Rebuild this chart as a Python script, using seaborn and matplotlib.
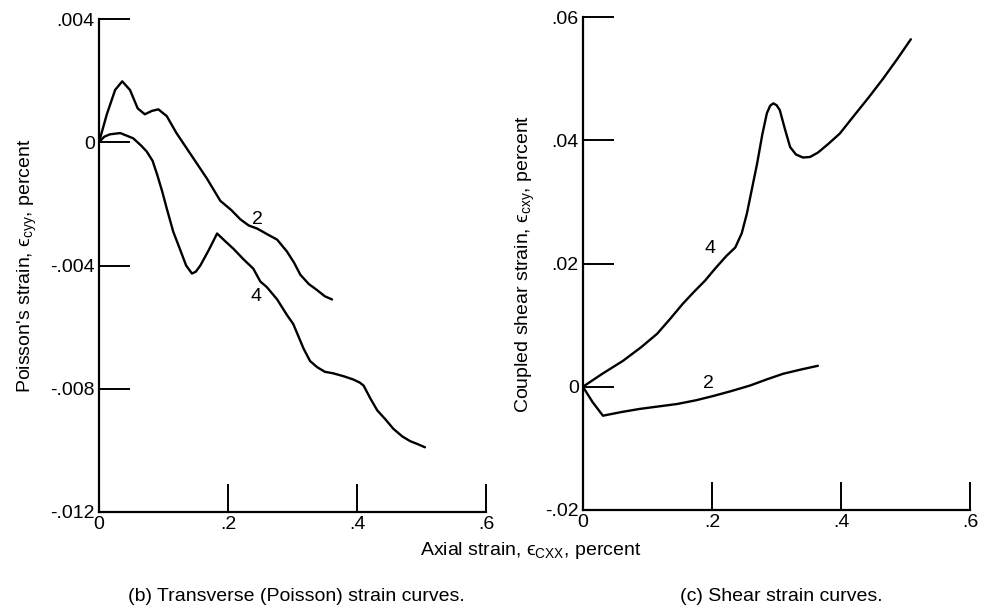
import pandas as pd
import seaborn as sns
import matplotlib.pyplot as plt

# (b) Poisson's strain curves
b2_x = [0.0, 0.012, 0.025, 0.036, 0.048, 0.060, 0.071, 0.082, 0.092, 0.105, 0.120, 0.136, 0.152, 0.167, 0.188,
        0.205, 0.219, 0.232, 0.245, 0.262, 0.276, 0.291, 0.302, 0.312, 0.325, 0.338, 0.350, 0.361]
b2_y = [0.0, 0.0009, 0.0017, 0.00198, 0.0017, 0.0011, 0.00091, 0.00102, 0.00107, 0.00085, 0.0003, -0.0002, -0.0007,
        -0.00117, -0.0019, -0.0022, -0.0025, -0.0027, -0.0028, -0.0030, -0.00316, -0.00354, -0.0039, -0.0043,
        -0.0046, -0.0048, -0.0050, -0.0051]
b4_x = [0.0, 0.008, 0.017, 0.033, 0.053, 0.065, 0.074, 0.083, 0.090, 0.098, 0.105, 0.115, 0.126, 0.135, 0.144,
        0.150, 0.157, 0.170, 0.183, 0.195, 0.208, 0.224, 0.239, 0.250, 0.260, 0.276, 0.291, 0.301, 0.309, 0.317,
        0.327, 0.338, 0.350, 0.363, 0.380, 0.394, 0.404, 0.410, 0.420, 0.431, 0.444, 0.456, 0.470, 0.482, 0.494, 0.505]
b4_y = [0.0, 0.00018, 0.00026, 0.0003, 0.00013, -0.0001, -0.0003, -0.0006, -0.00104, -0.0016, -0.00215, -0.0029,
        -0.0035, -0.0040, -0.00426, -0.0042, -0.0040, -0.0035, -0.00296, -0.0032, -0.00345, -0.0038, -0.0041,
        -0.00452, -0.0047, -0.0051, -0.0056, -0.0059, -0.0063, -0.0067, -0.0071, -0.0073, -0.00745, -0.0075,
        -0.0076, -0.0077, -0.0078, -0.0079, -0.0083, -0.0087, -0.0090, -0.0093, -0.00955, -0.0097, -0.0098, -0.0099]

# (c) coupled shear strain curves
c4_x = [0.0, 0.030, 0.062, 0.090, 0.115, 0.135, 0.155, 0.172, 0.189, 0.205, 0.222, 0.236, 0.246, 0.254, 0.262,
        0.270, 0.278, 0.285, 0.290, 0.295, 0.300, 0.305, 0.313, 0.321, 0.330, 0.341, 0.352, 0.364, 0.380, 0.398,
        0.420, 0.443, 0.465, 0.487, 0.508]
c4_y = [0.0, 0.0021, 0.0042, 0.0064, 0.0086, 0.0110, 0.0135, 0.0154, 0.0172, 0.0192, 0.0212, 0.0226, 0.0249,
        0.0281, 0.0322, 0.0363, 0.0410, 0.0444, 0.0456, 0.0460, 0.0457, 0.0449, 0.0418, 0.0389, 0.0377, 0.0372,
        0.0373, 0.0380, 0.0394, 0.0411, 0.0440, 0.0470, 0.0500, 0.0532, 0.0564]
c2_x = [0.0, 0.015, 0.031, 0.060, 0.088, 0.117, 0.146, 0.175, 0.202, 0.230, 0.259, 0.285, 0.310, 0.338, 0.364]
c2_y = [0.0, -0.0025, -0.0047, -0.0041, -0.0036, -0.0032, -0.0028, -0.0022, -0.0015, -0.0007, 0.0002, 0.0012,
        0.0021, 0.0028, 0.0034]

b_yticks = [-0.012, -0.008, -0.004, 0.0, 0.004]
b_ylabels = ["-.012", "-.008", "-.004", "0", ".004"]
c_yticks = [-0.02, 0.0, 0.02, 0.04, 0.06]
c_ylabels = ["-.02", "0", ".02", ".04", ".06"]
xticks = [0.0, 0.2, 0.4, 0.6]
xlabels = ["0", ".2", ".4", ".6"]


def curves(pairs):
    frames = []
    for name, xs, ys in pairs:
        frames.append(pd.DataFrame({"x": xs, "y": ys, "curve": name}))
    return pd.concat(frames, ignore_index=True)


def style_axis(ax, yticks, ylabels):
    ax.set_xlim(0, 0.6)
    ax.set_ylim(yticks[0], yticks[-1])
    ax.spines["top"].set_visible(False)
    ax.spines["right"].set_visible(False)
    for s in ("left", "bottom"):
        ax.spines[s].set_linewidth(1.6)
        ax.spines[s].set_color("black")
    ax.set_yticks(yticks)
    ax.set_yticklabels(ylabels)
    ax.set_xticks(xticks)
    ax.set_xticklabels(xlabels)
    ax.tick_params(axis="y", left=True, direction="in", length=22, width=1.4, pad=3,
                   labelsize=14, colors="black")
    ax.tick_params(axis="x", bottom=True, direction="in", length=20, width=1.4, pad=3,
                   labelsize=14, colors="black")
    ax.xaxis.get_major_ticks()[0].tick1line.set_visible(False)
    ax.set_xlabel("")
    ax.grid(False)


sns.set_style("white")
plt.rcParams["font.family"] = ["Liberation Sans Narrow", "Liberation Sans", "DejaVu Sans"]
plt.rcParams["mathtext.fontset"] = "custom"
plt.rcParams["mathtext.rm"] = "Liberation Sans"
plt.rcParams["mathtext.it"] = "Liberation Sans"
plt.rcParams["text.color"] = "black"
plt.rcParams["axes.labelcolor"] = "black"

fig = plt.figure(figsize=(9.83, 6.10), dpi=100)
ax1 = fig.add_axes([0.1007, 0.1607, 0.394, 0.808])
ax2 = fig.add_axes([0.593, 0.164, 0.394, 0.808])

d1 = curves([("2", b2_x, b2_y), ("4", b4_x, b4_y)])
sns.lineplot(data=d1, x="x", y="y", units="curve", estimator=None, sort=False,
             color="black", linewidth=1.7, ax=ax1)
style_axis(ax1, b_yticks, b_ylabels)
ax1.set_ylabel("Poisson's strain, ϵ$_{\\rm cyy}$, percent", fontsize=14, labelpad=8)
ax1.text(0.245, -0.0025, "2", fontsize=14, ha="center", va="center")
ax1.text(0.243, -0.0050, "4", fontsize=14, ha="center", va="center")

d2 = curves([("4", c4_x, c4_y), ("2", c2_x, c2_y)])
sns.lineplot(data=d2, x="x", y="y", units="curve", estimator=None, sort=False,
             color="black", linewidth=1.7, ax=ax2)
style_axis(ax2, c_yticks, c_ylabels)
ax2.set_ylabel("Coupled shear strain, ϵ$_{\\rm cxy}$, percent", fontsize=14, labelpad=6)
ax2.text(0.197, 0.0224, "4", fontsize=14, ha="center", va="center")
ax2.text(0.194, 0.0006, "2", fontsize=14, ha="center", va="center")

fig.text(0.540, 0.098, "Axial strain, ϵ$_{\\rm CXX}$, percent", fontsize=14, ha="center", va="center")
fig.text(0.301, 0.022, "(b) Transverse (Poisson) strain curves.", fontsize=14, ha="center", va="center")
fig.text(0.795, 0.022, "(c) Shear strain curves.", fontsize=14, ha="center", va="center")

fig.savefig("out.png", dpi=100, facecolor="white")
